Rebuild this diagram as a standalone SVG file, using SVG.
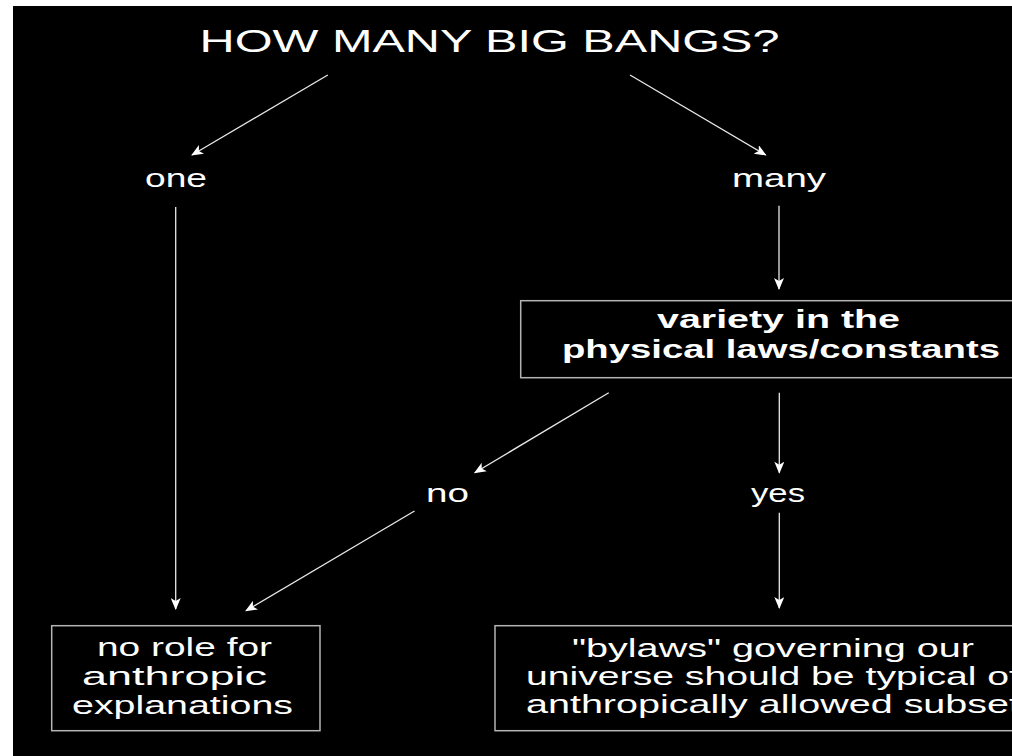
<svg xmlns="http://www.w3.org/2000/svg" width="1012" height="756" viewBox="0 0 1012 756">
<defs>
<style>
.t{font-family:"Liberation Sans","Open Sans",Arial,sans-serif;fill:#ffffff;font-size:26px}
.s{font-size:25px}
.b{font-weight:bold}
.ttl{font-size:32px}
.box{fill:#000000;stroke:#b4b4b4;stroke-width:1.5}
.c{stroke:#e8e8e8;stroke-width:1.3;fill:none;marker-end:url(#ah)}
</style>
<marker id="ah" viewBox="0 0 12 10" refX="11" refY="5" markerWidth="12" markerHeight="10" markerUnits="userSpaceOnUse" orient="auto">
<path d="M0,0 L12,5 L0,10 L3,5 Z" fill="#ffffff"/>
</marker>
</defs>
<rect x="0" y="0" width="1012" height="756" fill="#ffffff"/>
<rect x="13" y="6" width="999" height="750" fill="#000000"/>
<g id="title">
<text class="t ttl" x="199.6" y="52" textLength="580" lengthAdjust="spacingAndGlyphs">HOW MANY BIG BANGS?</text>
</g>
<g id="one">
<text class="t" x="145" y="187" textLength="62" lengthAdjust="spacingAndGlyphs">one</text>
</g>
<g id="many">
<text class="t" x="732" y="187" textLength="94" lengthAdjust="spacingAndGlyphs">many</text>
</g>
<g id="variety">
<rect class="box" x="520.7" y="300.7" width="520" height="77"/>
<text class="t s b" x="657" y="328" textLength="243" lengthAdjust="spacingAndGlyphs">variety in the</text>
<text class="t s b" x="562" y="358" textLength="438" lengthAdjust="spacingAndGlyphs">physical laws/constants</text>
</g>
<g id="no">
<text class="t" x="426" y="502" textLength="43" lengthAdjust="spacingAndGlyphs">no</text>
</g>
<g id="yes">
<text class="t" x="751" y="502" textLength="54" lengthAdjust="spacingAndGlyphs">yes</text>
</g>
<g id="norole">
<rect class="box" x="51.7" y="625.7" width="268.3" height="105"/>
<text class="t s" x="97" y="656" textLength="175" lengthAdjust="spacingAndGlyphs">no role for</text>
<text class="t s" x="82" y="685" textLength="185" lengthAdjust="spacingAndGlyphs">anthropic</text>
<text class="t s" x="72" y="714" textLength="221" lengthAdjust="spacingAndGlyphs">explanations</text>
</g>
<g id="bylaws">
<rect class="box" x="495" y="625.7" width="540" height="105"/>
<text class="t s" x="572" y="657" textLength="402" lengthAdjust="spacingAndGlyphs">"bylaws" governing our</text>
<text class="t s" x="526" y="685" textLength="494" lengthAdjust="spacingAndGlyphs">universe should be typical of</text>
<text class="t s" x="526" y="713" textLength="494" lengthAdjust="spacingAndGlyphs">anthropically allowed subset</text>
</g>
<g id="connectors">
<line class="c" x1="327.8" y1="75" x2="192" y2="155"/>
<line class="c" x1="630" y1="75" x2="765.7" y2="155"/>
<line class="c" x1="175.7" y1="207" x2="175.7" y2="609"/>
<line class="c" x1="779" y1="205.7" x2="779" y2="289"/>
<line class="c" x1="608.75" y1="392.7" x2="474.8" y2="472.7"/>
<line class="c" x1="779.3" y1="392.7" x2="779.3" y2="472.7"/>
<line class="c" x1="414.5" y1="511" x2="246" y2="610.7"/>
<line class="c" x1="779.3" y1="512.7" x2="779.3" y2="608"/>
</g>
</svg>
